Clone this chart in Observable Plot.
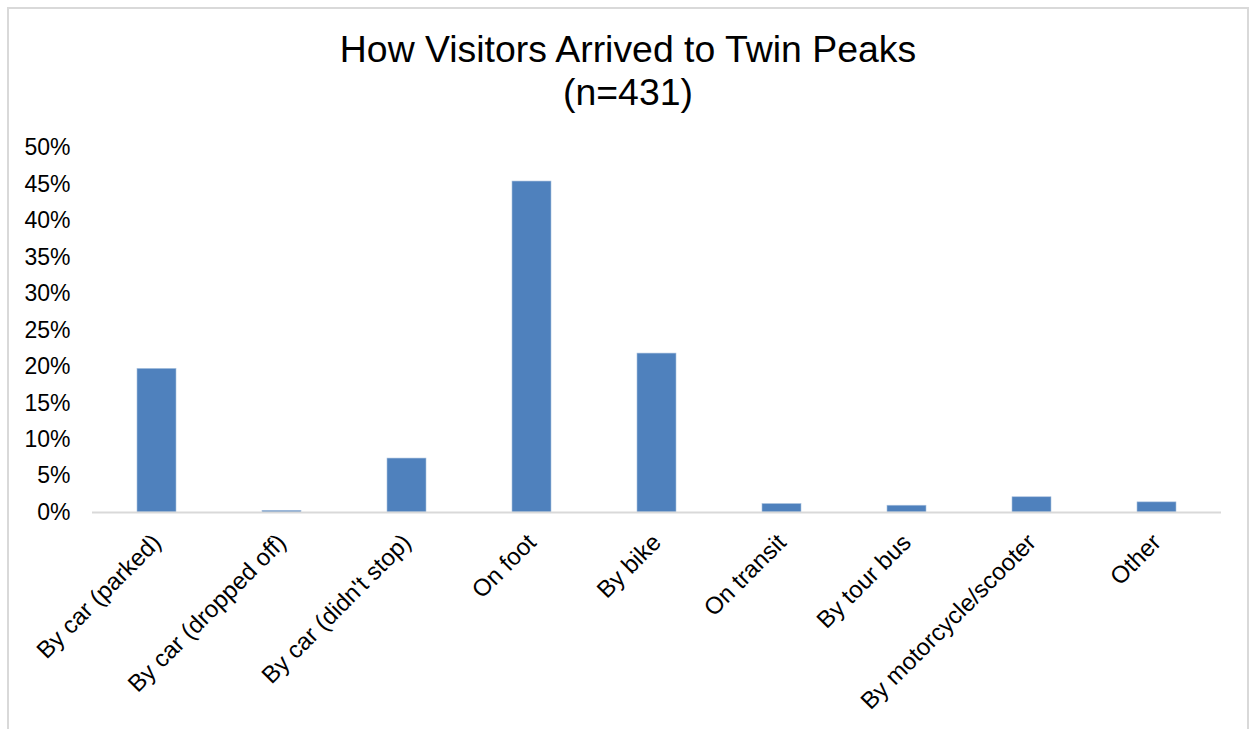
<!DOCTYPE html>
<html><head><meta charset="utf-8">
<script src="https://cdn.jsdelivr.net/npm/d3@7"></script>
<script src="https://cdn.jsdelivr.net/npm/@observablehq/plot@0.6"></script>
<style>
body{margin:0;background:#fff;font-family:"Liberation Sans",Arial,sans-serif;}
#frame{position:absolute;left:7px;top:7px;width:1242px;height:800px;border:2px solid #d9d9d9;box-sizing:border-box;}
#title{position:absolute;left:8px;top:0;width:1240px;height:130px;text-align:center;font-size:37.4px;line-height:43px;color:#000;}
#title div{position:absolute;left:0;width:100%;}
#chart{position:absolute;left:0;top:130px;}
</style></head>
<body>
<div id="frame"></div>
<div id="title"><div style="top:28px">How Visitors Arrived to Twin Peaks</div><div style="top:71px">(n=431)</div></div>
<div id="chart"></div>
<script>
const categories = ["By car (parked)", "By car (dropped off)", "By car (didn't stop)", "On foot", "By bike", "On transit", "By tour bus", "By motorcycle/scooter", "Other"];
const values = [19.7, 0.23, 7.4, 45.4, 21.8, 1.16, 0.93, 2.09, 1.39];
const yTicks = [0, 5, 10, 15, 20, 25, 30, 35, 40, 45, 50];

const data = categories.map((c, i) => ({category: c, value: values[i]}));

const chart = Plot.plot({
  width: 1251,
  height: 599,
  marginLeft: 92,
  marginRight: 30,
  marginTop: 17.5,
  marginBottom: 217,
  style: {fontFamily: "'Liberation Sans', Arial, sans-serif", fontSize: "23px", color: "#000", background: "transparent", overflow: "visible"},
  x: {domain: categories, paddingInner: 0.69, paddingOuter: 0.345},
  y: {domain: [0, 50]},
  marks: [
    Plot.axisX({label: null, tickSize: 0, tickRotate: -45, tickPadding: 26, fontSize: 24}),
    Plot.axisY(yTicks, {label: null, tickSize: 0, tickPadding: 22, tickFormat: d => d + "%"}),
    Plot.barY(data, {x: "category", y: "value", fill: "#4f81bd", stroke: "#a9c1de", strokeWidth: 0.6}),
    Plot.ruleY([0], {stroke: "#d9d9d9", strokeWidth: 2})
  ]
});
document.getElementById("chart").appendChild(chart);
</script>
</body></html>
